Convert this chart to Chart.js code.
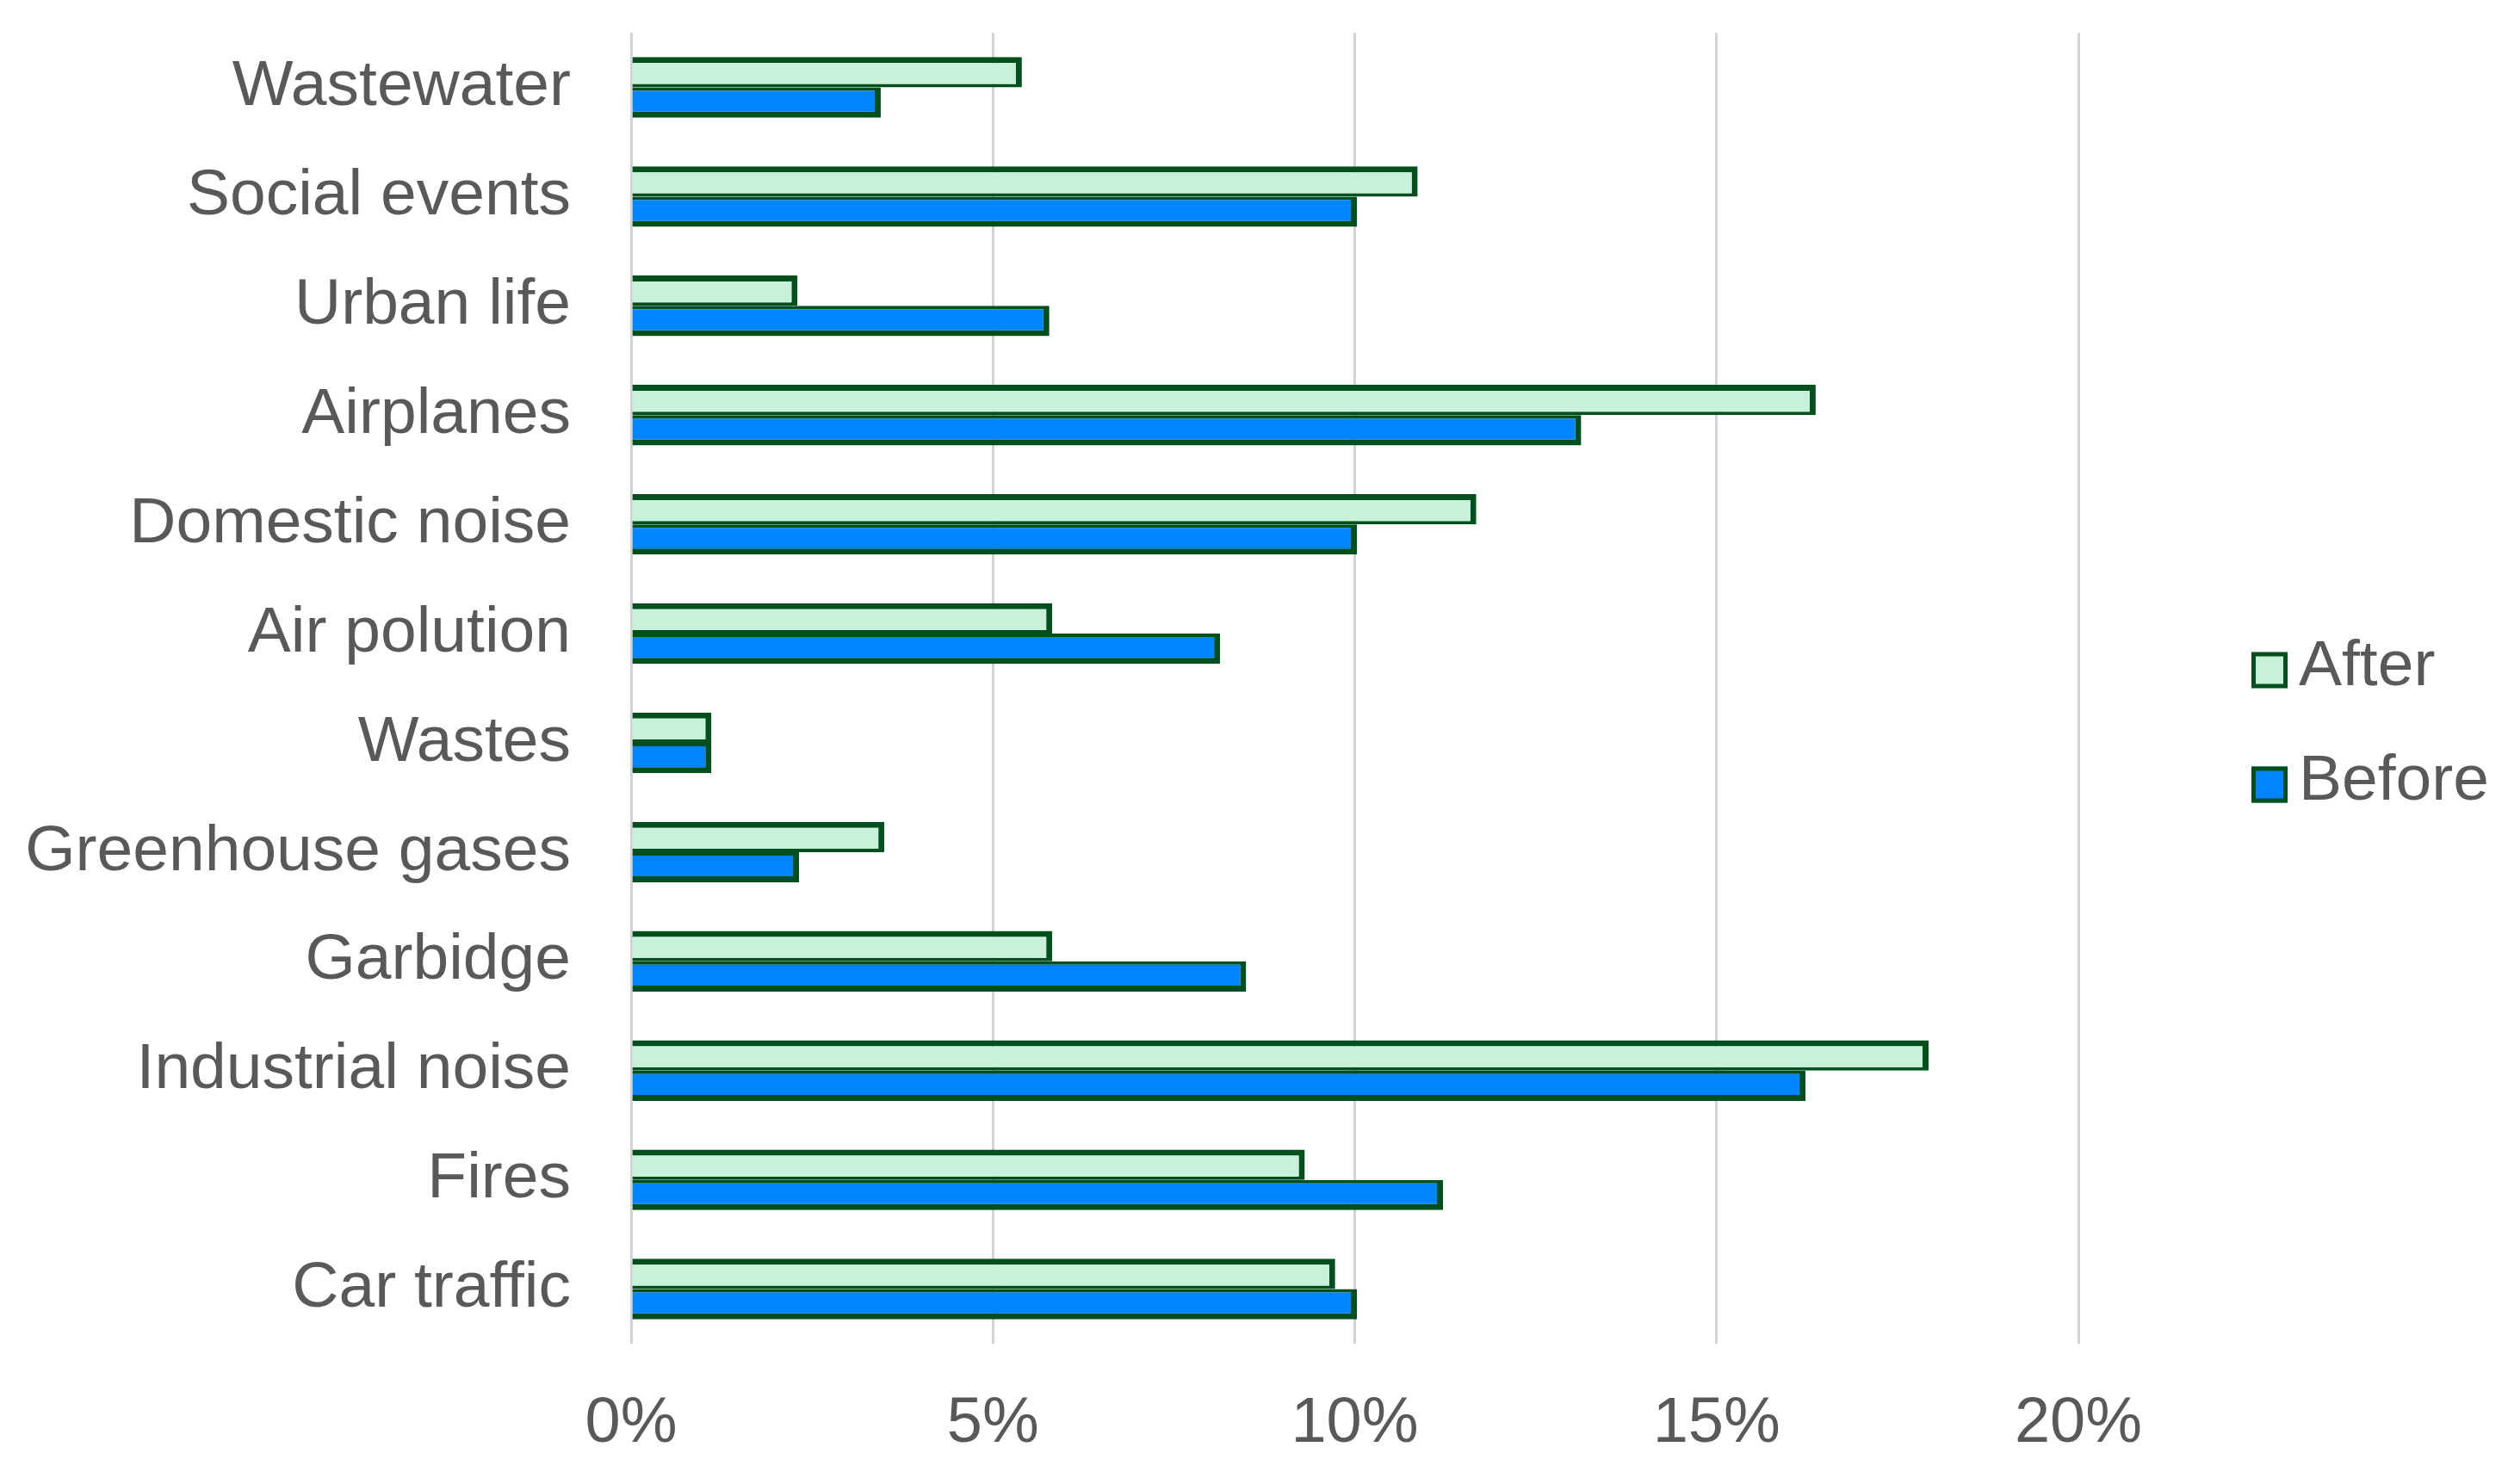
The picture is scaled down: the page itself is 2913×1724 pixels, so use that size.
<!DOCTYPE html>
<html><head><meta charset="utf-8">
<script src="https://cdn.jsdelivr.net/npm/chart.js@4.4.1/dist/chart.umd.min.js"></script>
<style>html,body{margin:0;padding:0;background:#fff;overflow:hidden}#wrap{width:2913px;height:1724px;position:relative}</style>
</head><body><div id="wrap"><canvas id="c" width="2913" height="1724"></canvas></div>
<script>
const categories = ['Wastewater','Social events','Urban life','Airplanes','Domestic noise','Air polution','Wastes','Greenhouse gases','Garbidge','Industrial noise','Fires','Car traffic'];
const afterValues  = [5.40, 10.87, 2.30, 16.37, 11.68, 5.82, 1.11, 3.50, 5.82, 17.93, 9.31, 9.73];
const beforeValues = [3.45, 10.03, 5.78, 13.13, 10.03, 8.14, 1.11, 2.32, 8.50, 16.23, 11.22, 10.03];
const xTickLabels = ['0%','5%','10%','15%','20%'];
const seriesNames = ['After','Before'];

const FONT = '"Liberation Sans", Arial, sans-serif';
const TEXT = '#595959';
const EDGE = '#004F1C';

const sideLegend = {
  id: 'sideLegend',
  afterDraw(chart) {
    const ctx = chart.ctx, a = chart.chartArea;
    const mid = (a.top + a.bottom) / 2;
    chart.data.datasets.forEach((ds, i) => {
      const cy = mid - 21 + i * 133;
      const bx = a.right + 201;
      const s = 42, bw = 5;
      ctx.save();
      ctx.fillStyle = ds.backgroundColor;
      ctx.fillRect(bx, cy - s / 2, s, s);
      ctx.strokeStyle = EDGE;
      ctx.lineWidth = bw;
      ctx.strokeRect(bx + bw / 2, cy - s / 2 + bw / 2, s - bw, s - bw);
      ctx.fillStyle = TEXT;
      ctx.font = '75px ' + FONT;
      ctx.textBaseline = 'middle';
      ctx.textAlign = 'left';
      ctx.fillText(ds.label, bx + 55, cy - 3);
      ctx.restore();
    });
  }
};

new Chart(document.getElementById('c'), {
  type: 'bar',
  data: {
    labels: categories,
    datasets: [
      { label: seriesNames[0], data: afterValues, backgroundColor: '#C8F1DC', borderColor: EDGE,
        borderWidth: {top: 7, right: 7, bottom: 4, left: 0}, borderSkipped: 'start',
        barPercentage: 1, categoryPercentage: 0.555 },
      { label: seriesNames[1], data: beforeValues, backgroundColor: '#0084FF', borderColor: EDGE,
        borderWidth: {top: 4, right: 7, bottom: 7, left: 0}, borderSkipped: 'start',
        barPercentage: 1, categoryPercentage: 0.555 }
    ]
  },
  options: {
    indexAxis: 'y',
    responsive: false,
    devicePixelRatio: 1,
    animation: false,
    layout: { padding: { left: 0, top: 38, right: 499, bottom: 0 } },
    plugins: { legend: { display: false }, tooltip: { enabled: false } },
    scales: {
      x: {
        min: 0, max: 20,
        ticks: { stepSize: 5, color: TEXT, font: { family: FONT, size: 74 }, padding: 49,
          callback: (v, i) => xTickLabels[i] },
        grid: { color: '#D3D3D3', lineWidth: 3, drawTicks: false },
        border: { display: false },
        afterFit: s => { s.height = 163; s.paddingLeft = 0; s.paddingRight = 0; }
      },
      y: {
        ticks: { color: TEXT, font: { family: FONT, size: 75 }, padding: 70 },
        grid: { display: false, drawTicks: false },
        border: { display: false },
        afterFit: s => { s.width = 733; s.paddingTop = 0; s.paddingBottom = 0; }
      }
    }
  },
  plugins: [sideLegend]
});
</script></body></html>
